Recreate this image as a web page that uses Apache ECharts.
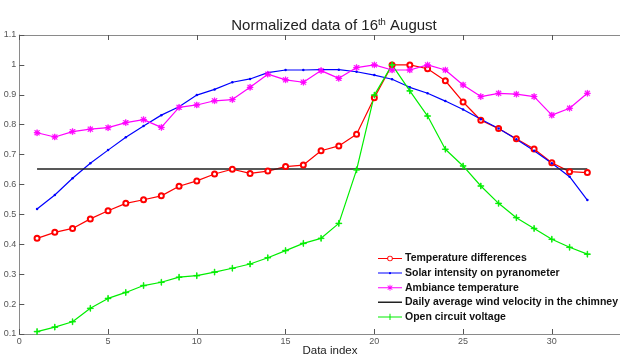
<!DOCTYPE html>
<html>
<head>
<meta charset="utf-8">
<script src="https://cdn.jsdelivr.net/npm/echarts@6/dist/echarts.min.js"></script>
<style>html,body{margin:0;padding:0;background:#fff}#c{width:620px;height:358px}</style>
</head>
<body>
<div id="c"></div>
<script>
const dataIndex = [1,2,3,4,5,6,7,8,9,10,11,12,13,14,15,16,17,18,19,20,21,22,23,24,25,26,27,28,29,30,31,32];
const tempDiff = [0.42,0.44,0.453,0.485,0.512,0.537,0.549,0.562,0.594,0.612,0.635,0.651,0.637,0.645,0.66,0.665,0.713,0.729,0.768,0.89,1.0,1.0,0.987,0.947,0.876,0.815,0.787,0.753,0.719,0.673,0.643,0.64];
const solar = [0.518,0.565,0.621,0.671,0.715,0.758,0.796,0.832,0.86,0.899,0.918,0.942,0.953,0.974,0.983,0.983,0.984,0.984,0.977,0.966,0.952,0.925,0.905,0.879,0.851,0.818,0.787,0.751,0.713,0.671,0.626,0.548];
const ambiance = [0.773,0.759,0.777,0.785,0.79,0.807,0.817,0.791,0.858,0.866,0.88,0.884,0.925,0.969,0.95,0.942,0.981,0.955,0.991,1.0,0.983,0.983,1.0,0.983,0.933,0.894,0.905,0.902,0.894,0.832,0.855,0.905];
const windAvg = [0.652,0.652,0.652,0.652,0.652,0.652,0.652,0.652,0.652,0.652,0.652,0.652,0.652,0.652,0.652,0.652,0.652,0.652,0.652,0.652,0.652,0.652,0.652,0.652,0.652,0.652,0.652,0.652,0.652,0.652,0.652,0.652];
const voltage = [0.108,0.123,0.141,0.186,0.219,0.239,0.262,0.273,0.29,0.295,0.307,0.32,0.334,0.355,0.379,0.403,0.42,0.47,0.649,0.899,1.0,0.913,0.829,0.718,0.662,0.595,0.537,0.489,0.453,0.417,0.39,0.367];
const seriesNames = ['Temperature differences','Solar intensity on pyranometer','Ambiance temperature','Daily average wind velocity in the chimney','Open circuit voltage'];
const xTicks = [0,5,10,15,20,25,30,35];
const yTicks = [0.1,0.2,0.3,0.4,0.5,0.6,0.7,0.8,0.9,1,1.1];

const pairs = arr => dataIndex.map((x,i)=>[x, arr[i]]);
const plusPath = 'path://M4.5,0h1v4.5h4.5v1h-4.5v4.5h-1v-4.5h-4.5v-1h4.5z';
const starPath = 'path://M4.5,0h1v4.5h4.5v1h-4.5v4.5h-1v-4.5h-4.5v-1h4.5z M1.5,0.8L9.2,8.5L8.5,9.2L0.8,1.5Z M8.5,0.8L9.2,1.5L1.5,9.2L0.8,8.5Z';
const FONT = 'Liberation Sans, Arial, sans-serif';

// legend icons drawn in a 24x10 box (corner specks fix the bounding box)
const CORNERS = 'M0,0h0.01v0.01h-0.01z M23.99,9.99h0.01v0.01h-0.01z ';
const LINE = 'M0,4.5h24v1h-24z ';
const icons = [
  'path://' + CORNERS + 'M0,4.5h9.2v1h-9.2z M14.8,4.5h9.2v1h-9.2z M12,2.2a2.8,2.8 0 1,1 0,5.6a2.8,2.8 0 1,1 0,-5.6z M12,3.1a1.9,1.9 0 1,0 0,3.8a1.9,1.9 0 1,0 0,-3.8z',
  'path://' + CORNERS + LINE + 'M12,3.8a1.2,1.2 0 1,1 0,2.4a1.2,1.2 0 1,1 0,-2.4z',
  'path://' + CORNERS + LINE + 'M11.6,2h0.8v6h-0.8z M9.9,2.6L14.6,6.8L14.1,7.4L9.4,3.2Z M14.1,2.6L14.6,3.2L9.9,7.4L9.4,6.8Z',
  'path://' + CORNERS + 'M0,4.3h24v1.4h-24z',
  'path://' + CORNERS + LINE + 'M11.5,1.8h1v6.4h-1z'
];

const chart = echarts.init(document.getElementById('c'), null, {renderer:'canvas'});
const mk = (name, arr, color, symbol, size, lw, bw) => ({
  name, type:'line', data: pairs(arr), symbol, symbolSize:size, showSymbol: symbol!=='none',
  lineStyle:{color, width:lw}, itemStyle:{color, borderColor:color, borderWidth:bw||0}, emphasis:{disabled:true}
});

chart.setOption({
  animation:false,
  backgroundColor:'#fff',
  title:{
    text:'{a|Normalized data of 16}{s|th}{a| August}',
    left:329, top:12, textAlign:'center',
    textStyle:{rich:{
      a:{fontFamily:FONT,fontSize:15,fontWeight:'normal',color:'#222',lineHeight:18},
      s:{fontFamily:FONT,fontSize:9.5,fontWeight:'normal',color:'#222',lineHeight:18,verticalAlign:'top',padding:[0,0,9,0]}
    }}
  },
  grid:{left:19.3, top:35, width:621.3, height:299, outerBoundsMode:'none', containLabel:false},
  legend:{
    orient:'vertical', left:378, top:253, padding:0, itemGap:3.6,
    itemWidth:24, itemHeight:10,
    itemStyle:{borderWidth:0},
    textStyle:{fontFamily:FONT, fontSize:10.5, fontWeight:'bold', color:'#111', padding:[0,0,0,-2]},
    data: seriesNames.map((n,i)=>({name:n, icon:icons[i], itemStyle:{borderWidth:0}}))
  },
  xAxis:[{
    type:'value', min:xTicks[0], max:xTicks[xTicks.length-1], interval:5,
    name:'Data index', nameLocation:'middle', nameGap:11, nameMoveOverlap:false,
    nameTextStyle:{fontFamily:FONT, fontSize:11.5, color:'#222', verticalAlign:'top'},
    axisLine:{show:true, onZero:false, lineStyle:{color:'#8a8a8a', width:1}},
    axisTick:{show:true, inside:true, length:5, lineStyle:{color:'#555'}},
    axisLabel:{fontFamily:FONT, fontSize:9, color:'#555', margin:3},
    splitLine:{show:false}
  },{
    type:'value', position:'top', min:xTicks[0], max:xTicks[xTicks.length-1], interval:5,
    axisLine:{show:true, onZero:false, lineStyle:{color:'#8a8a8a', width:1}},
    axisTick:{show:true, inside:true, length:5, lineStyle:{color:'#555'}},
    axisLabel:{show:false}, splitLine:{show:false}
  }],
  yAxis:[{
    type:'value', min:yTicks[0], max:yTicks[yTicks.length-1], interval:0.1,
    axisLine:{show:true, onZero:false, lineStyle:{color:'#8a8a8a', width:1}},
    axisTick:{show:true, inside:true, length:5, lineStyle:{color:'#555'}},
    axisLabel:{fontFamily:FONT, fontSize:9, color:'#555', margin:3,
      formatter: v => String(parseFloat(v.toFixed(1)))},
    splitLine:{show:false}
  }],
  series:[
    mk(seriesNames[0], tempDiff, '#ff0000', 'emptyCircle', 5, 1.2, 1),
    mk(seriesNames[1], solar, '#0000ff', 'circle', 2.5, 1.2, 0),
    mk(seriesNames[2], ambiance, '#ff00ff', starPath, 6, 1.2, 0.7),
    mk(seriesNames[3], windAvg, '#222222', 'none', 0, 1.4, 0),
    mk(seriesNames[4], voltage, '#00ee00', plusPath, 6, 1.2, 0.8)
  ]
});
</script>
</body>
</html>
